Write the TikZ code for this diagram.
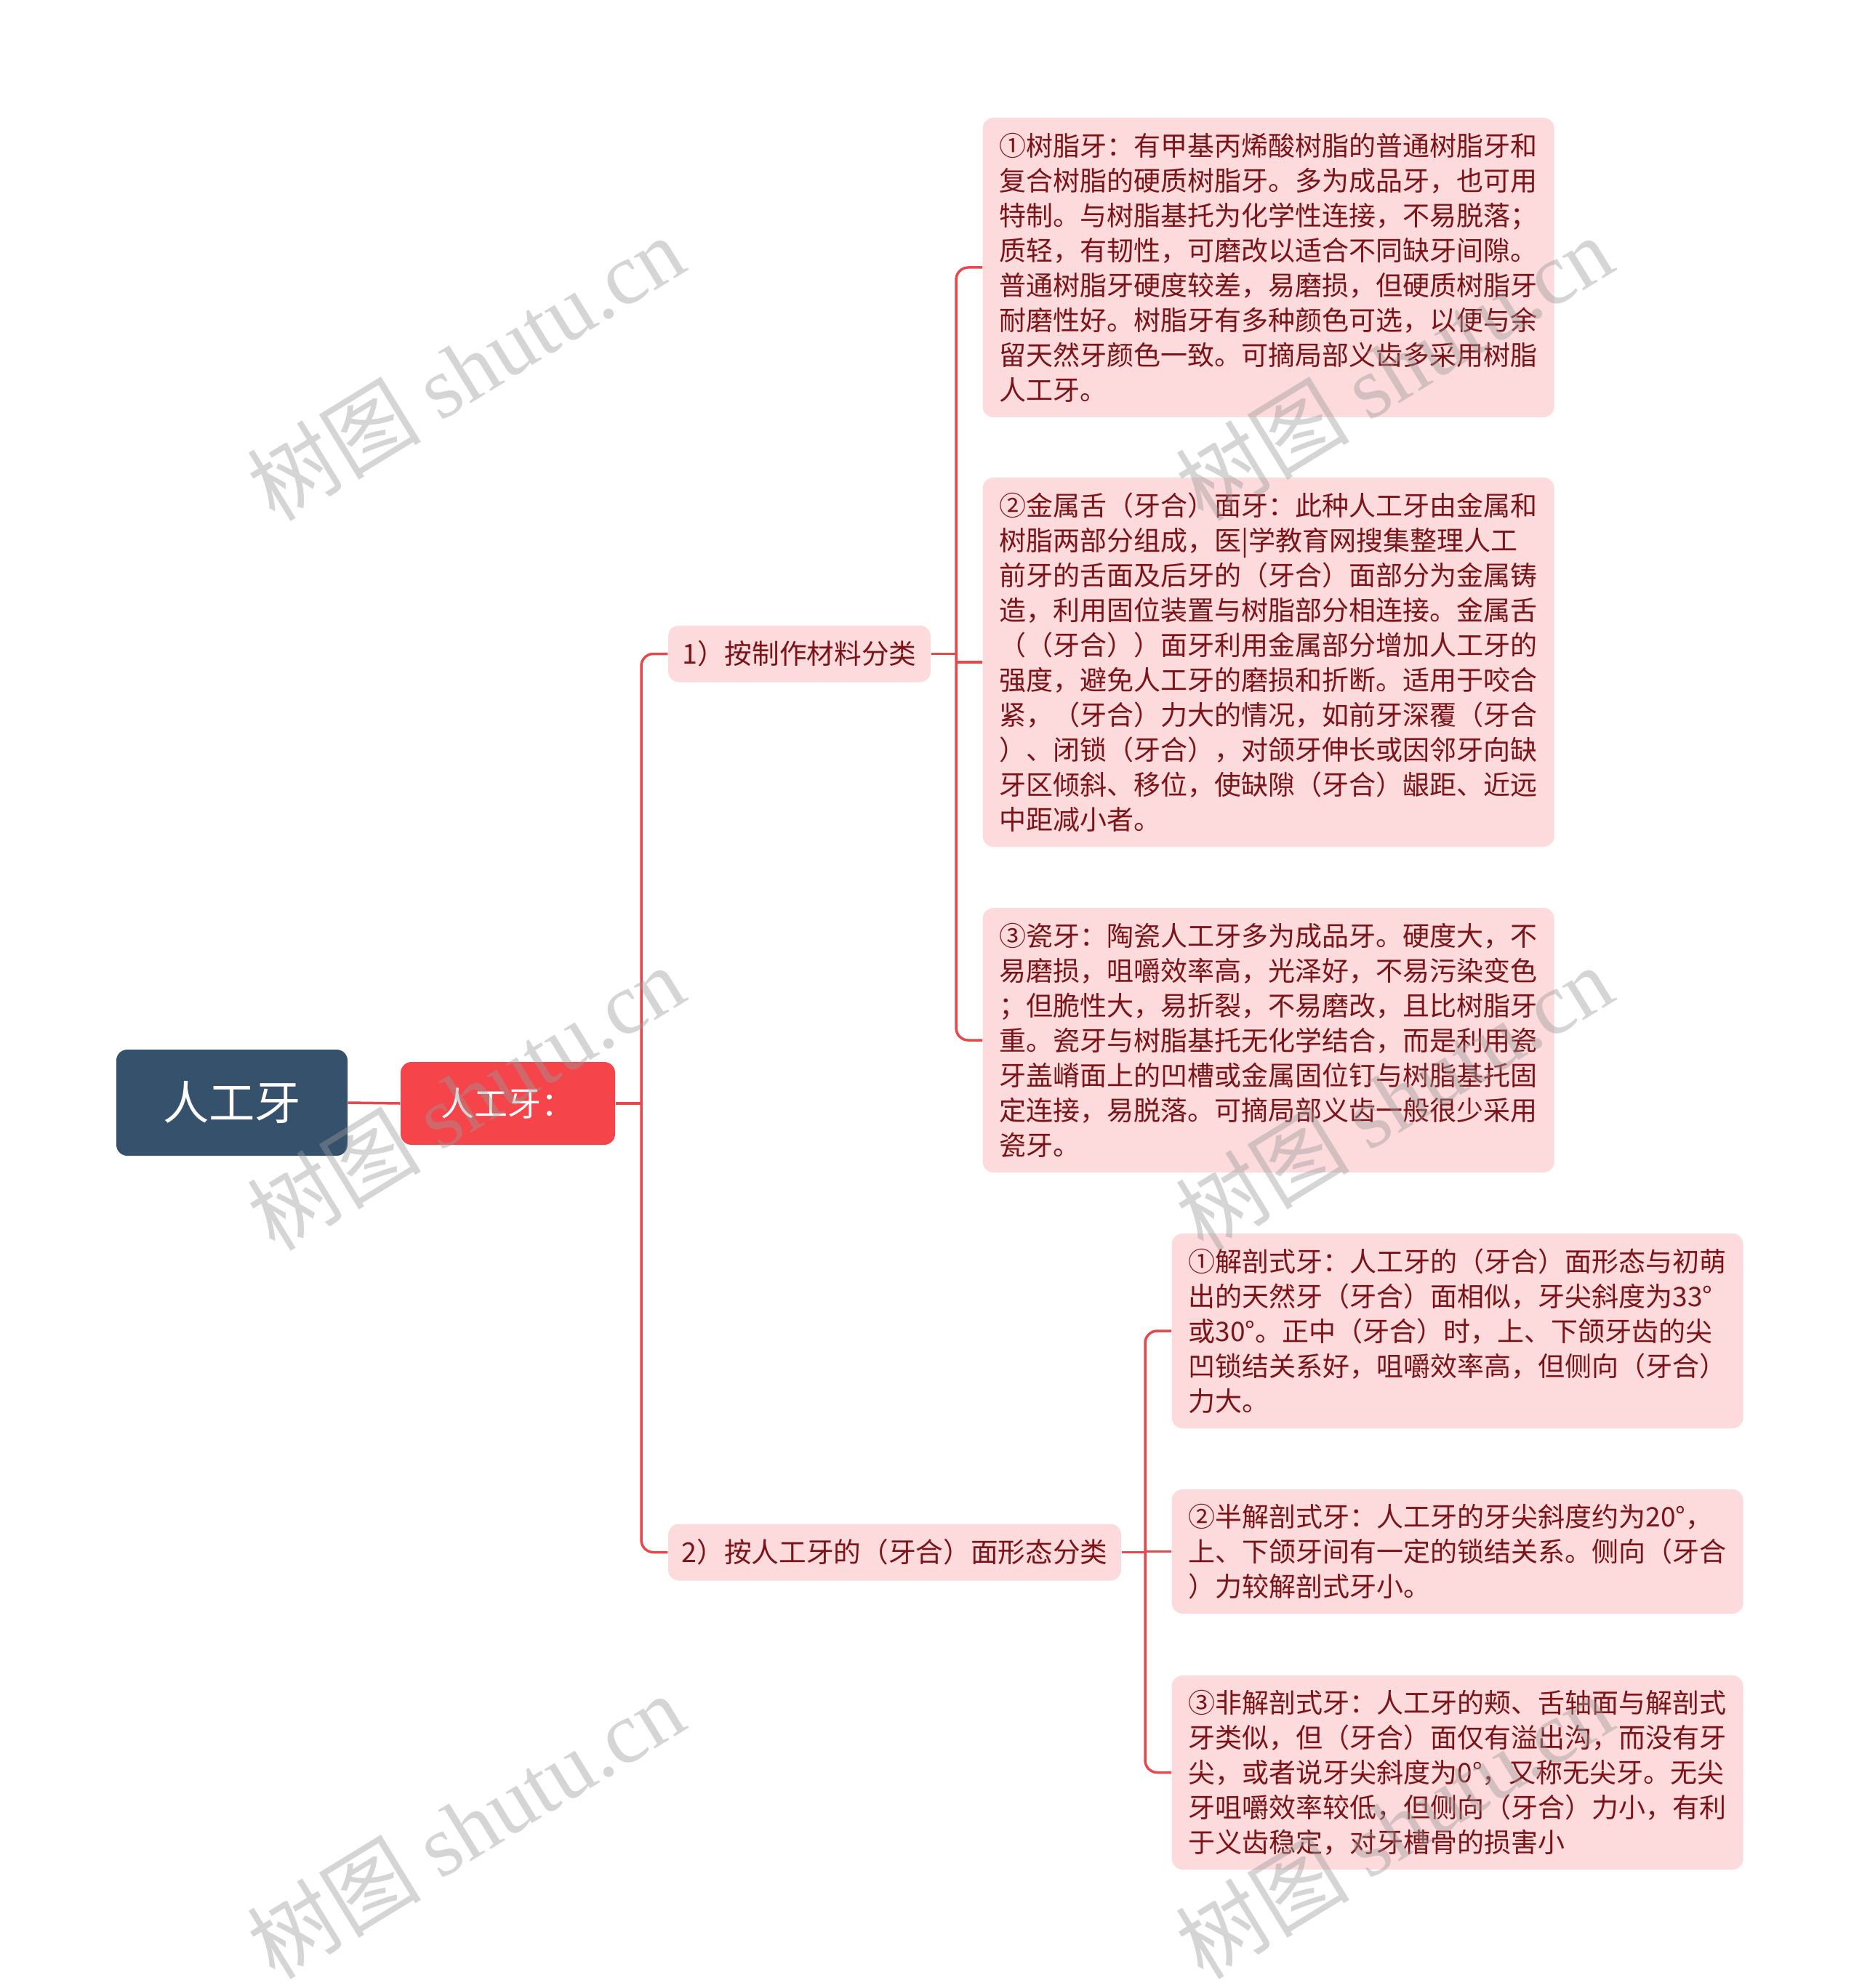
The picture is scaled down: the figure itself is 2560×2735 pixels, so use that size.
\documentclass[tikz,border=0pt]{standalone}
\usepackage{fontspec}
\setmainfont{Noto Sans CJK SC}
\newfontfamily\wmserif{Liberation Serif}
\usetikzlibrary{calc}
\definecolor{rootblue}{HTML}{36516C}
\definecolor{nodered}{HTML}{F5444A}
\definecolor{linered}{HTML}{E8474D}
\definecolor{leafpink}{HTML}{FDDADB}
\definecolor{leaftext}{HTML}{7A1418}
\definecolor{wmgray}{HTML}{9A9A9A}
\begin{document}
\begin{tikzpicture}[x=0.3pt,y=-0.3pt,
  conn/.style={draw=linered,line width=1.05pt,rounded corners=5pt},
  rootbox/.style={fill=rootblue,rounded corners=4.5pt,text=white,inner sep=0pt,
    minimum width=95.4pt,minimum height=43.8pt,font=\fontsize{19pt}{22pt}\selectfont},
  redbox/.style={fill=nodered,rounded corners=4.5pt,text=white,inner sep=0pt,
    minimum width=88.5pt,minimum height=34.2pt,font=\fontsize{13.8pt}{16pt}\selectfont},
  catbox/.style={fill=leafpink,rounded corners=4.5pt,text=leaftext,inner sep=0pt,
    minimum height=23.4pt,font=\fontsize{11.3pt}{14pt}\selectfont},
  leafbox/.style={fill=leafpink,rounded corners=4.5pt,text=leaftext,inner xsep=6pt,inner ysep=0pt,
    minimum width=235.8pt,align=left,anchor=west,font=\fontsize{11.1pt}{14.4pt}\selectfont},
  wm/.style={text=wmgray,opacity=0.42,rotate=31.5,font=\fontsize{36pt}{36pt}\selectfont}
]
\useasboundingbox (0,0) rectangle (2560,2735);

% nodes
\node[rootbox] (root) at (319,1517) {人工牙};
\node[redbox] (red) at (698.5,1518) {人工牙：};
\node[catbox,minimum width=108.3pt] (n1) at (1099.5,899.5) {1）按制作材料分类};
\node[catbox,minimum width=186.9pt] (n2) at (1230.5,2135.5) {2）按人工牙的（牙合）面形态分类};

\node[leafbox,minimum height=123.6pt] (l1) at (1351,368) {①树脂牙：有甲基丙烯酸树脂的普通树脂牙和\\复合树脂的硬质树脂牙。多为成品牙，也可用\\特制。与树脂基托为化学性连接，不易脱落；\\质轻，有韧性，可磨改以适合不同缺牙间隙。\\普通树脂牙硬度较差，易磨损，但硬质树脂牙\\耐磨性好。树脂牙有多种颜色可选，以便与余\\留天然牙颜色一致。可摘局部义齿多采用树脂\\人工牙。};
\node[leafbox,minimum height=152.4pt] (l2) at (1351,911) {②金属舌（牙合）面牙：此种人工牙由金属和\\树脂两部分组成，医|学教育网搜集整理人工\\前牙的舌面及后牙的（牙合）面部分为金属铸\\造，利用固位装置与树脂部分相连接。金属舌\\（（牙合））面牙利用金属部分增加人工牙的\\强度，避免人工牙的磨损和折断。适用于咬合\\紧，（牙合）力大的情况，如前牙深覆（牙合\\）、闭锁（牙合），对颌牙伸长或因邻牙向缺\\牙区倾斜、移位，使缺隙（牙合）龈距、近远\\中距减小者。};
\node[leafbox,minimum height=109.2pt] (l3) at (1351,1431) {③瓷牙：陶瓷人工牙多为成品牙。硬度大，不\\易磨损，咀嚼效率高，光泽好，不易污染变色\\；但脆性大，易折裂，不易磨改，且比树脂牙\\重。瓷牙与树脂基托无化学结合，而是利用瓷\\牙盖嵴面上的凹槽或金属固位钉与树脂基托固\\定连接，易脱落。可摘局部义齿一般很少采用\\瓷牙。};
\node[leafbox,minimum height=80.4pt] (l4) at (1611,1831) {①解剖式牙：人工牙的（牙合）面形态与初萌\\出的天然牙（牙合）面相似，牙尖斜度为33°\\或30°。正中（牙合）时，上、下颌牙齿的尖\\凹锁结关系好，咀嚼效率高，但侧向（牙合）\\力大。};
\node[leafbox,minimum height=51.3pt] (l5) at (1611,2134.5) {②半解剖式牙：人工牙的牙尖斜度约为20°，\\上、下颌牙间有一定的锁结关系。侧向（牙合\\）力较解剖式牙小。};
\node[leafbox,minimum height=80.1pt] (l6) at (1611,2438.5) {③非解剖式牙：人工牙的颊、舌轴面与解剖式\\牙类似，但（牙合）面仅有溢出沟，而没有牙\\尖，或者说牙尖斜度为0°，又称无尖牙。无尖\\牙咀嚼效率较低，但侧向（牙合）力小，有利\\于义齿稳定，对牙槽骨的损害小};

% branch coordinates
\coordinate (b0) at (882,1518);
\coordinate (b1) at (1315,899.5);
\coordinate (b2) at (1575,2135.5);

% connectors
\draw[conn] (root.east) -- (red.west);
\draw[conn] (red.east) -- (b0);
\draw[conn] (n1.west) -| (b0) |- (n2.west);
\draw[conn] (n1.east) -- (b1);
\draw[conn] (l1.west) -| (b1) |- (l3.west);
\draw[conn] (b1 |- l2.west) -- (l2.west);
\draw[conn] (n2.east) -- (b2);
\draw[conn] (l4.west) -| (b2) |- (l6.west);
\draw[conn] (b2 |- l5.west) -- (l5.west);

% watermarks
\foreach \wx/\wy/\wn in {640/506/a,640/1510/b,640/2512/c,1917/506/d,1917/1510/e,1917/2512/f}{
  \node[wm] (wm\wn) at (\wx,\wy) {树图 {\wmserif shutu.cn}};
}
\end{tikzpicture}
\end{document}
